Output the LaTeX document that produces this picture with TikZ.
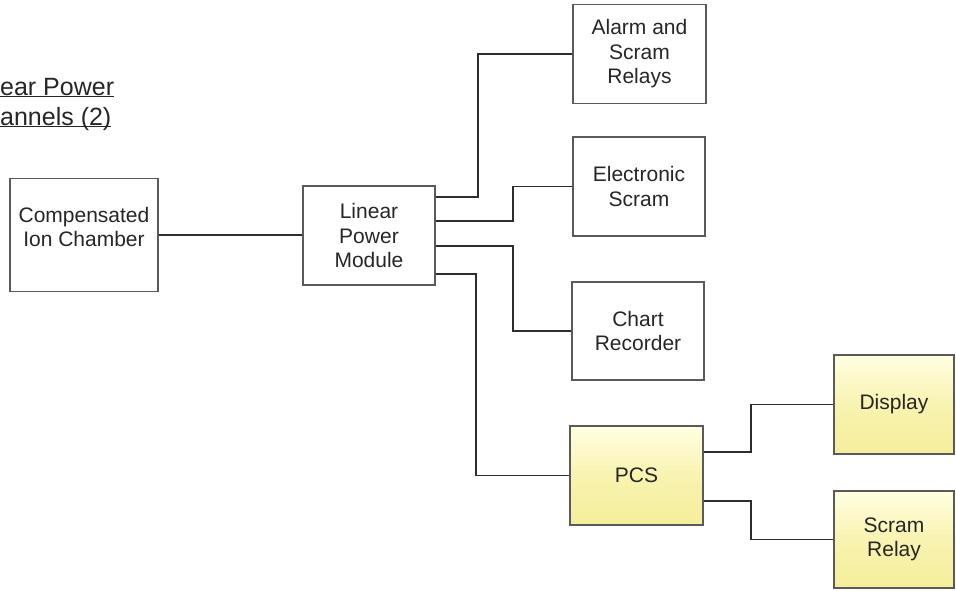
\documentclass[tikz,border=0pt]{standalone}
\usepackage{fontspec}
\setmainfont{Liberation Sans}
\definecolor{boxline}{RGB}{90,90,90}
\definecolor{wire}{RGB}{45,45,45}
\definecolor{ylt}{RGB}{255,255,226}
\definecolor{ydk}{RGB}{245,238,155}
\tikzset{
  blk/.style={draw=boxline, line width=1.2pt, align=center, inner sep=0pt,
    font=\fontsize{21}{24.5}\selectfont, text=black!85},
  ybox/.style={blk, top color=ylt, bottom color=ydk, middle color=ydk!70!ylt},
  txt/.style={align=center, inner sep=0pt, font=\fontsize{21}{24.5}\selectfont, text=black!85},
  wire/.style={draw=wire, line width=1.9pt},
  ttl/.style={anchor=base west, inner sep=0pt, font=\fontsize{25}{28}\selectfont, text=black!85}
}
\begin{document}
\begin{tikzpicture}[x=1pt,y=-1pt]
\useasboundingbox (0,0) rectangle (956,590);
\node[ttl] (t1) at (0,95) {\underline{\smash{ear Power}}};
\node[ttl] (t2) at (0,125) {\underline{\smash{annels (2)}}};

\node[blk, minimum width=148pt, minimum height=113pt] (cic) at (84,235) {};
\node[txt] (cictext) at (84,227) {Compensated\\Ion Chamber};
\node[blk, minimum width=132pt, minimum height=99pt] (lpm) at (369,235.5) {Linear\\Power\\Module};
\node[blk, minimum width=133pt, minimum height=99pt] (alarm) at (639.5,54) {Alarm and\\Scram\\Relays};
\node[blk, minimum width=132pt, minimum height=99pt] (escram) at (639,186.5) {Electronic\\Scram};
\node[blk, minimum width=132pt, minimum height=98pt] (chart) at (638,331) {Chart\\Recorder};
\node[ybox, minimum width=133pt, minimum height=99pt] (pcs) at (636.5,475.5) {PCS};
\node[ybox, minimum width=120pt, minimum height=99pt] (disp) at (894,404.5) {Display};
\node[ybox, minimum width=120pt, minimum height=97pt] (srelay) at (894,539.5) {Scram\\Relay};

\draw[wire] (cic.east) -- (cic.east -| lpm.west);
\draw[wire] ([yshift=-12pt]lpm.north east) -- ++(42,0) |- (alarm.west);
\draw[wire] ([yshift=-36pt]lpm.north east) -- ++(77,0) |- (escram.west);
\draw[wire] ([yshift=-61pt]lpm.north east) -- ++(77,0) |- (chart.west);
\draw[wire] ([yshift=-89pt]lpm.north east) -- ++(40,0) |- (pcs.west);
\draw[wire] ([yshift=-27pt]pcs.north east) -- ++(47,0) |- (disp.west);
\draw[wire] ([yshift=-76pt]pcs.north east) -- ++(47,0) |- (srelay.west);
\end{tikzpicture}
\end{document}
